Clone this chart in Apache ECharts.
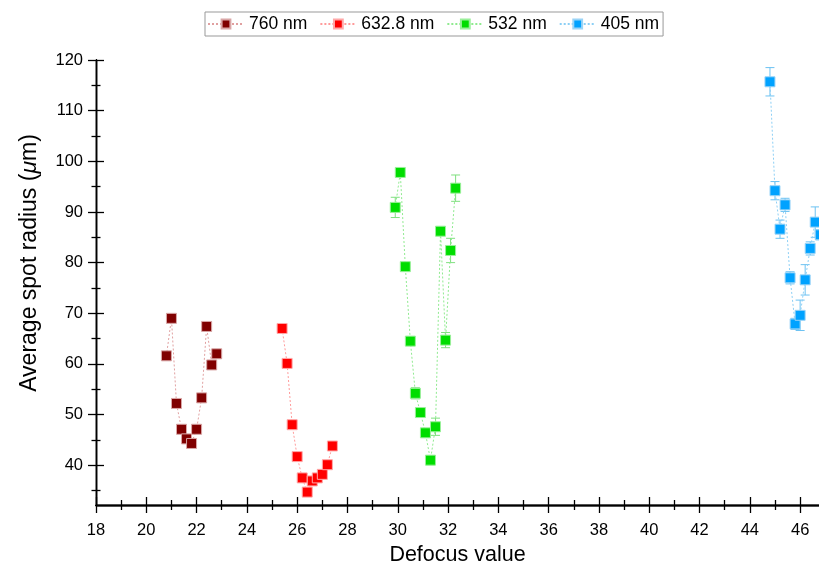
<!DOCTYPE html>
<html><head><meta charset="utf-8">
<script src="https://cdn.jsdelivr.net/npm/echarts@6/dist/echarts.min.js"></script>
<style>html,body{margin:0;padding:0;background:#fff}#c{width:819px;height:567px}</style>
</head><body><div id="c"></div>
<script>
const seriesNames = ['760 nm', '632.8 nm', '532 nm', '405 nm'];
const x760 = [20.8, 21.0, 21.2, 21.4, 21.6, 21.8, 22.0, 22.2, 22.4, 22.6, 22.8];
const y760 = [61.6, 69.0, 52.2, 47.1, 45.2, 44.3, 47.1, 53.3, 67.4, 59.8, 62.0];
const x633 = [25.4, 25.6, 25.8, 26.0, 26.2, 26.4, 26.6, 26.8, 27.0, 27.2, 27.4];
const y633 = [67.0, 60.1, 48.0, 41.7, 37.5, 34.7, 36.9, 37.5, 38.2, 40.1, 43.8];
const x532 = [29.9, 30.1, 30.3, 30.5, 30.7, 30.9, 31.1, 31.3, 31.5, 31.7, 31.9, 32.1, 32.3];
const y532 = [90.9, 97.8, 79.2, 64.5, 54.2, 50.4, 46.4, 41.0, 47.6, 86.2, 64.7, 82.4, 94.7];
const e532 = [2.0, 0.6, 0.5, 0.5, 1.1, 0.5, 0.8, 0.9, 1.7, 0.5, 1.5, 2.4, 2.6];
const x405 = [44.8, 45.0, 45.2, 45.4, 45.6, 45.8, 46.0, 46.2, 46.4, 46.6, 46.8];
const y405 = [115.7, 94.2, 86.6, 91.4, 77.0, 67.9, 69.6, 76.6, 82.8, 88.0, 85.5];
const e405 = [2.8, 1.8, 1.8, 1.3, 1.2, 1.1, 3.0, 3.0, 1.3, 3.0, 1.0];
const xMajor = [18, 20, 22, 24, 26, 28, 30, 32, 34, 36, 38, 40, 42, 44, 46];
const xMinor = [19, 21, 23, 25, 27, 29, 31, 33, 35, 37, 39, 41, 43, 45];
const yMajor = [40, 50, 60, 70, 80, 90, 100, 110, 120];
const yMinor = [35, 45, 55, 65, 75, 85, 95, 105, 115];
const xTitle = 'Defocus value';
const yTitleParts = ['Average spot radius (', 'μ', 'm)'];

const FONT = '"Liberation Sans", Arial, sans-serif';
const markerColors = ['#800000', '#ff0000', '#00dd00', '#00a2ff'];
const lineColors = ['#e0a0a0', '#ff9a9a', '#8fea8f', '#8ccff5'];
const borderColors = ['#d9a6a6', '#ffa8a8', '#9af09a', '#9ad4f7'];
const errColors = ['#d9a6a6', '#ffa8a8', '#7fe07f', '#6cc2f2'];

function pairs(xs, ys) { return xs.map((x, i) => [x, ys[i]]); }
function errData(xs, ys, es) { return xs.map((x, i) => [x, ys[i] - es[i], ys[i] + es[i]]); }

function lineSeries(i, xs, ys) {
  return {
    name: seriesNames[i], type: 'line', data: pairs(xs, ys),
    xAxisIndex: 0, yAxisIndex: 0, clip: false,
    symbol: 'rect', symbolSize: 10, z: 5,
    lineStyle: { color: lineColors[i], width: 1, type: [2, 2] },
    itemStyle: { color: markerColors[i], borderColor: borderColors[i], borderWidth: 1 },
    emphasis: { disabled: true }
  };
}
function errSeries(i, xs, ys, es) {
  return {
    type: 'custom', data: errData(xs, ys, es), xAxisIndex: 0, yAxisIndex: 0, z: 3, silent: true,
    renderItem: function (params, api) {
      const x = api.value(0);
      const lo = api.coord([x, api.value(1)]);
      const hi = api.coord([x, api.value(2)]);
      const w = 4.5;
      const st = { stroke: errColors[i], lineWidth: 1 };
      return { type: 'group', children: [
        { type: 'line', shape: { x1: lo[0], y1: lo[1], x2: hi[0], y2: hi[1] }, style: st },
        { type: 'line', shape: { x1: lo[0] - w, y1: lo[1], x2: lo[0] + w, y2: lo[1] }, style: st },
        { type: 'line', shape: { x1: hi[0] - w, y1: hi[1], x2: hi[0] + w, y2: hi[1] }, style: st }
      ]};
    }
  };
}

const XMIN = 18, XMAX = 46.75, YMIN = 32.15, YMAX = 120;
const axLine = { show: true, lineStyle: { color: '#000', width: 1.3 } };
function xAx(extra) {
  return Object.assign({ type: 'value', min: XMIN, max: XMAX, position: 'bottom', offset: 0,
    splitLine: { show: false }, axisLine: axLine }, extra);
}
function yAx(extra) {
  return Object.assign({ type: 'value', min: YMIN, max: YMAX, position: 'left', offset: 0,
    splitLine: { show: false }, axisLine: axLine }, extra);
}

const chart = echarts.init(document.getElementById('c'), null, { renderer: 'canvas' });
chart.setOption({
  animation: false,
  textStyle: { fontFamily: FONT },
  grid: { left: 96, top: 60, right: 0, bottom: 62, containLabel: false, outerBoundsMode: 'none' },
  legend: {
    data: seriesNames, left: 205, top: 12, padding: [3, 4, 3, 2], itemGap: 12,
    itemWidth: 36, itemHeight: 11, borderColor: '#999', borderWidth: 1,
    textStyle: { fontFamily: FONT, fontSize: 17.5, color: '#000' }
  },
  graphic: [{
    type: 'text', x: 30, y: 263, rotation: Math.PI / 2, silent: true,
    style: {
      text: '{a|' + yTitleParts[0] + '}{b|' + yTitleParts[1] + '}{a|' + yTitleParts[2] + '}',
      align: 'center', verticalAlign: 'middle', fill: '#000',
      rich: { a: { fontFamily: FONT, fontSize: 23, fill: '#000' }, b: { fontFamily: FONT, fontSize: 23, fill: '#000', fontStyle: 'italic' } }
    }
  }],
  xAxis: [
    xAx({ name: xTitle, nameLocation: 'middle', nameGap: 38,
      nameTextStyle: { fontFamily: FONT, fontSize: 21.5, color: '#000' },
      axisTick: { show: true, inside: false, length: 8, customValues: xMajor, lineStyle: { color: '#000', width: 1.3 } },
      axisLabel: { show: true, customValues: xMajor, margin: 17, fontFamily: FONT, fontSize: 16.5, color: '#000' } }),
    xAx({ axisTick: { show: true, inside: true, length: 8, customValues: xMajor, lineStyle: { color: '#000', width: 1.3 } },
      axisLabel: { show: false } }),
    xAx({ axisTick: { show: true, inside: false, length: 5, customValues: xMinor, lineStyle: { color: '#000', width: 1.3 } },
      axisLabel: { show: false } }),
    xAx({ axisTick: { show: true, inside: true, length: 5, customValues: xMinor, lineStyle: { color: '#000', width: 1.3 } },
      axisLabel: { show: false } })
  ],
  yAxis: [
    yAx({ axisTick: { show: true, inside: false, length: 8, customValues: yMajor, lineStyle: { color: '#000', width: 1.3 } },
      axisLabel: { show: true, customValues: yMajor, margin: 13, fontFamily: FONT, fontSize: 16.5, color: '#000' } }),
    yAx({ axisTick: { show: true, inside: true, length: 8, customValues: yMajor, lineStyle: { color: '#000', width: 1.3 } },
      axisLabel: { show: false } }),
    yAx({ axisTick: { show: true, inside: false, length: 4.5, customValues: yMinor, lineStyle: { color: '#000', width: 1.3 } },
      axisLabel: { show: false } }),
    yAx({ axisTick: { show: true, inside: true, length: 4.5, customValues: yMinor, lineStyle: { color: '#000', width: 1.3 } },
      axisLabel: { show: false } })
  ],
  series: [
    errSeries(2, x532, y532, e532),
    errSeries(3, x405, y405, e405),
    lineSeries(0, x760, y760),
    lineSeries(1, x633, y633),
    lineSeries(2, x532, y532),
    lineSeries(3, x405, y405)
  ]
});
</script></body></html>
